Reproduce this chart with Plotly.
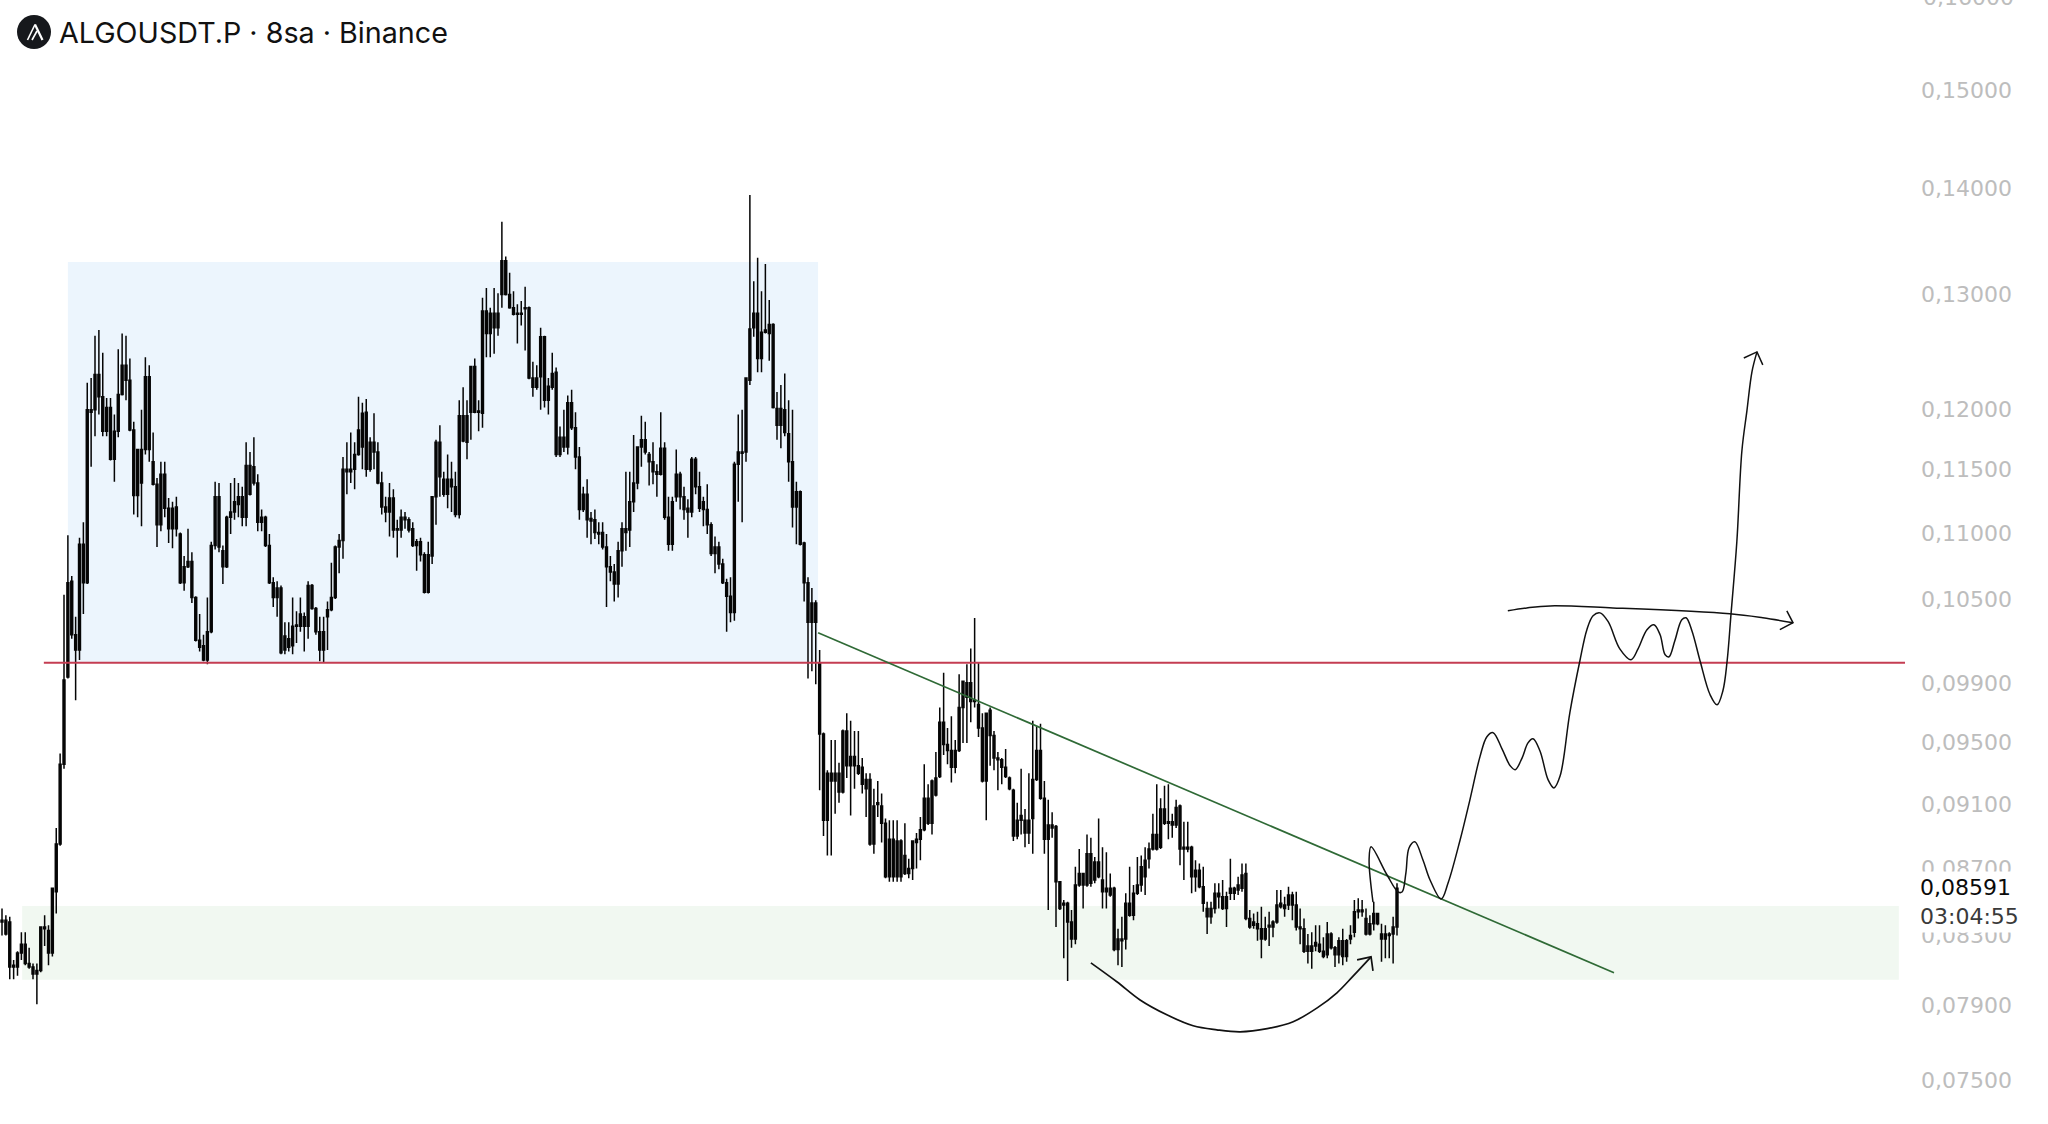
import math
import plotly.graph_objects as go

# Candle values, in units of 0.0001 USDT
highs = [
847,843,842,817,822,833,833,824,815,815,836,843,837,859,896,944,1055,1100,1069,1039,
1098,1110,1224,1228,1265,1270,1250,1211,1211,1197,1253,1267,1265,1245,1191,1168,1201,1246,1239,1182,
1145,1158,1158,1129,1126,1130,1102,1084,1105,1087,1054,1041,1026,1053,1095,1142,1141,1092,1115,1141,
1145,1141,1138,1174,1166,1178,1148,1120,1115,1101,1068,1065,1062,1035,1035,1053,1043,1053,1042,1065,
1063,1046,1039,1039,1050,1079,1092,1101,1162,1174,1182,1174,1212,1207,1210,1178,1198,1174,1150,1130,
1141,1136,1112,1120,1118,1114,1110,1097,1098,1087,1095,1130,1176,1188,1150,1164,1158,1150,1209,1220,
1209,1238,1245,1209,1299,1308,1290,1308,1303,1370,1337,1322,1305,1293,1296,1309,1291,1242,1239,1272,
1265,1228,1250,1237,1187,1201,1213,1218,1199,1170,1138,1144,1118,1120,1110,1110,1101,1084,1078,1095,
1110,1150,1150,1180,1170,1196,1191,1166,1174,1156,1199,1174,1130,1130,1168,1150,1138,1128,1162,1162,
1150,1130,1140,1110,1099,1095,1082,1067,1068,1158,1197,1201,1228,1396,1314,1336,1305,1330,1297,1276,
1216,1222,1232,1209,1201,1142,1135,1095,1068,1060,1051,1015,958,933,953,953,938,960,971,966,
959,959,941,931,931,921,926,918,902,901,901,901,889,899,877,888,893,903,937,924,
927,945,975,999,961,969,953,998,993,1005,1016,1038,1006,971,971,975,959,945,941,947,
929,921,912,934,908,931,966,962,964,926,914,906,898,863,852,851,846,872,883,868,
892,890,878,902,884,881,868,860,835,842,856,872,861,878,879,884,887,905,924,915,
923,924,905,914,911,900,900,885,876,874,872,851,851,862,862,864,857,877,860,866,
874,874,846,844,845,848,842,845,840,858,858,854,860,857,857,847,841,832,833,837,
837,830,839,833,825,830,835,829,837,852,853,852,847,843,851,844,838,837,833,842,
862]
body_tops = [
840,840,839,814,821,826,826,815,813,811,836,836,834,859,886,937,994,1064,1065,1026,
1093,1093,1201,1201,1231,1231,1212,1203,1203,1183,1214,1239,1239,1226,1184,1168,1168,1229,1229,1158,
1140,1148,1148,1121,1121,1122,1101,1076,1080,1080,1053,1022,1018,1028,1092,1130,1130,1088,1114,1118,
1126,1130,1130,1155,1155,1154,1141,1114,1114,1092,1064,1060,1060,1025,1023,1032,1033,1041,1039,1062,
1062,1045,1028,1028,1044,1053,1091,1096,1152,1152,1152,1164,1184,1198,1199,1174,1174,1166,1141,1122,
1129,1129,1105,1114,1114,1112,1105,1095,1095,1085,1085,1130,1174,1174,1144,1144,1144,1138,1196,1196,
1196,1238,1238,1200,1287,1287,1285,1285,1285,1333,1333,1302,1290,1285,1285,1290,1290,1228,1228,1264,
1264,1221,1232,1233,1178,1178,1207,1207,1186,1162,1132,1132,1113,1112,1102,1102,1091,1076,1072,1088,
1105,1105,1126,1141,1170,1176,1176,1164,1158,1150,1169,1169,1114,1126,1148,1148,1130,1121,1160,1160,
1138,1126,1120,1108,1091,1091,1078,1064,1054,1156,1166,1166,1228,1271,1285,1285,1268,1270,1275,1275,
1202,1202,1201,1181,1158,1134,1134,1094,1064,1049,1049,1006,957,931,931,931,931,959,959,942,
942,936,935,927,927,910,912,910,899,889,889,888,888,879,871,888,889,895,915,915,
926,928,965,965,950,946,946,975,993,992,992,980,977,961,971,973,956,941,940,935,
928,920,901,904,901,901,927,946,946,915,898,898,897,863,850,850,839,861,868,868,
880,880,875,875,864,859,859,859,829,829,850,850,856,861,872,876,883,892,892,908,
908,900,900,909,910,884,884,884,870,870,860,847,847,856,856,854,854,859,859,861,
867,868,841,839,838,835,835,837,839,849,850,849,855,855,849,836,835,825,825,827,
826,822,832,832,824,828,828,828,831,845,846,846,841,838,844,844,832,832,832,836,
859]
body_bottoms = [
839,832,813,813,813,821,815,813,809,809,811,835,821,821,857,886,937,996,1026,1015,
1015,1064,1064,1199,1201,1212,1183,1183,1160,1160,1183,1214,1226,1184,1131,1131,1141,1168,1168,1140,
1108,1108,1121,1105,1105,1105,1064,1064,1076,1053,1022,1017,1008,1008,1028,1092,1091,1076,1076,1114,
1118,1124,1114,1114,1132,1141,1110,1110,1092,1064,1053,1053,1013,1015,1017,1018,1032,1032,1032,1032,
1045,1028,1015,1015,1039,1044,1053,1091,1096,1150,1150,1152,1164,1170,1152,1152,1166,1141,1122,1118,
1118,1104,1104,1104,1112,1104,1092,1092,1085,1057,1057,1084,1130,1146,1132,1132,1138,1116,1116,1175,
1174,1199,1199,1199,1198,1267,1267,1272,1272,1302,1302,1290,1284,1284,1284,1289,1228,1220,1220,1229,
1209,1209,1220,1164,1164,1170,1170,1186,1162,1120,1120,1112,1111,1102,1101,1091,1076,1072,1063,1063,
1088,1102,1104,1126,1141,1170,1166,1158,1150,1148,1148,1114,1093,1093,1130,1130,1120,1118,1118,1138,
1121,1120,1108,1086,1086,1078,1064,1054,1042,1042,1156,1165,1166,1226,1272,1245,1245,1268,1267,1203,
1188,1188,1182,1158,1122,1122,1093,1064,1035,1035,1035,957,901,901,926,926,919,919,936,936,
936,931,924,921,886,886,911,899,866,866,866,866,866,868,868,871,887,889,895,899,
899,917,929,950,946,935,935,946,975,982,979,979,961,926,926,956,941,940,935,929,
921,891,891,901,893,893,902,927,915,889,889,896,863,847,849,839,829,829,861,861,
861,862,864,866,857,857,855,823,823,828,829,843,843,856,861,866,877,883,883,884,
899,899,898,898,883,883,883,866,866,860,850,842,842,847,854,847,847,856,856,858,
859,841,836,837,835,829,829,836,836,839,848,847,849,849,836,835,822,822,822,825,
822,819,820,824,820,820,819,819,829,833,845,845,832,832,838,838,829,829,831,832,
836]
lows = [
831,831,806,806,808,817,814,812,806,792,810,825,814,819,844,885,934,995,1023,980,
1008,1041,1063,1154,1179,1197,1179,1179,1159,1142,1178,1213,1209,1183,1116,1114,1107,1164,1158,1139,
1091,1103,1114,1094,1090,1099,1063,1058,1075,1049,1021,1014,1007,1005,1027,1089,1087,1063,1075,1101,
1112,1114,1107,1107,1131,1139,1103,1103,1091,1063,1046,1039,1012,1012,1014,1012,1020,1028,1014,1023,
1044,1026,1007,1006,1015,1043,1052,1071,1082,1132,1141,1136,1163,1152,1146,1150,1152,1140,1116,1110,
1099,1098,1083,1098,1105,1102,1091,1073,1080,1056,1056,1078,1108,1130,1130,1121,1118,1114,1113,1174,
1160,1176,1198,1183,1186,1246,1246,1249,1265,1290,1301,1289,1283,1258,1274,1252,1227,1212,1218,1201,
1203,1197,1218,1162,1162,1166,1164,1184,1152,1112,1118,1098,1093,1097,1093,1089,1046,1065,1050,1053,
1076,1088,1091,1118,1136,1154,1164,1139,1140,1130,1147,1112,1088,1088,1126,1120,1112,1098,1114,1132,
1118,1107,1101,1084,1071,1074,1063,1028,1035,1036,1126,1110,1158,1222,1264,1233,1233,1267,1243,1202,
1176,1169,1179,1142,1106,1093,1092,1050,995,1000,991,920,891,879,879,905,912,918,928,904,
921,930,918,903,885,880,903,887,865,863,863,863,863,867,865,864,871,876,894,898,
892,916,928,943,937,925,931,945,951,951,965,975,955,925,901,936,933,920,924,928,
920,888,889,892,884,886,880,926,914,880,846,890,836,846,818,805,824,826,860,847,
860,860,862,865,847,847,854,822,814,813,823,842,840,855,857,855,871,882,882,883,
898,889,890,896,873,864,881,856,857,859,845,832,838,844,847,846,836,852,852,855,
857,840,835,835,828,818,828,825,830,838,847,842,846,840,834,826,821,815,812,822,
821,818,818,823,813,815,814,816,826,830,841,842,831,831,834,837,816,818,818,815,
831]

# Hand-drawn projection, bar index and price in the same 0.0001 unit
wave_bars = [353.8,352.8,353.3,357.4,360.3,361.3,362.3,363.1,364.6,366.7,368.5,371.4,373.2,376.3,378.8,381.4,383.2,384.8,387.1,389.2,390.5,392.3,393.8,395.1,396.9,399,400.5,402.1,404.6,407.2,409,410.6,412.4,414.5,417.5,420.4,422.2,424.5,426.3,427.9,429.2,430.2,431.7,433.5,434.6,436.1,438.2,440.8,442.6,444.1,445.2,446.2,447.7,449,450.3,451.6,452.9]
wave_prices = [849.5,874.9,883.0,865.9,855.5,855.5,867.1,882.3,886.1,874.9,862.9,851.3,861.0,887.4,912.4,940.4,953.8,956.5,945.7,934.6,932.0,939.8,949.7,952.4,944.3,925.4,920.2,928,969.9,1005.9,1028,1038.1,1040.2,1033.8,1014.3,1006.6,1014.3,1028,1031.6,1024.4,1010.1,1008.7,1020.1,1035.2,1036.6,1027.3,1005.9,982.2,975.3,985,1005.9,1039.5,1093.3,1165.1,1198.3,1231.5,1248.8]
up_head_bars = [449.5,452.9,454.4]
up_head_prices = [1243.5,1248.8,1237.5]
flat_bars = [388.6,393.5,399.5,415.7,445.9,454.4,462.2]
flat_prices = [1041.7,1043.8,1045.3,1043.8,1039.5,1036.6,1033]
flat_head_bars = [460.6,462.2,458.8]
flat_head_prices = [1041.7,1033,1028]
arc_bars = [281,287.7,293.7,300.6,307.4,313.5,319.5,326.5,333.2,339.4,344.5,348.6,353.3]
arc_prices = [814.1,803.4,793.2,785.0,779,776.8,775.7,777.4,781.2,788.8,797.2,806.4,817.5]
arc_head_bars = [349.7,353.3,353.8]
arc_head_prices = [815.8,817.5,809.5]
trend_bars = [210.6,416]
trend_prices = [1025.8,808.5]
level_bars = [10.8,491.1]
level_prices = [1004.5,1004.5]
blue_zone_bars = [17.0,210.6]
blue_zone_prices = [1004.5,1330]
green_zone_bars = [5.2,489.5]
green_zone_prices = [804.5,847.2]

tick_values = [0.15,0.14,0.13,0.12,0.115,0.11,0.105,0.099,0.095,0.091,0.087,0.083,0.079,0.075]
tick_labels = ["0,15000","0,14000","0,13000","0,12000","0,11500","0,11000","0,10500","0,09900","0,09500","0,09100","0,08700","0,08300","0,07900","0,07500"]
top_label = "0,16000"
last_price = "0,08591"
countdown = "03:04:55"
title = "ALGOUSDT.P · 8sa · Binance"

UNIT = 1e-4
CANDLE_UNIT = 0.9985e-4
W, H, PLOT_W = 2048, 1124, 1915
BAR_PX = 3.875
TITLE_FONT = "Inter"
AXIS_FONT = "DejaVu Sans"
AXIS_SIZE = 22

def p(vals, unit=UNIT):
    return [v * unit for v in vals]

bars = list(range(len(highs)))
fig = go.Figure()
fig.add_trace(go.Candlestick(
    x=bars, open=p(body_bottoms, CANDLE_UNIT), close=p(body_tops, CANDLE_UNIT),
    high=p(highs, CANDLE_UNIT), low=p(lows, CANDLE_UNIT),
    increasing=dict(line=dict(color="#050505", width=1.5), fillcolor="#050505"),
    decreasing=dict(line=dict(color="#050505", width=1.5), fillcolor="#050505"),
    whiskerwidth=0, hoverinfo="skip", showlegend=False))

def line(x, y, color, width, shape="linear"):
    fig.add_trace(go.Scatter(x=x, y=p(y), mode="lines", hoverinfo="skip", showlegend=False,
                             line=dict(color=color, width=width, shape=shape, smoothing=1.0)))

line(level_bars, level_prices, "#c43d52", 1.8)
line(trend_bars, trend_prices, "#2f6a36", 1.7)
INK = "#111111"
line(wave_bars, wave_prices, INK, 1.5, "spline")
line(up_head_bars, up_head_prices, INK, 1.5)
line(flat_bars, flat_prices, INK, 1.5, "spline")
line(flat_head_bars, flat_head_prices, INK, 1.5)
line(arc_bars, arc_prices, INK, 1.7, "spline")
line(arc_head_bars, arc_head_prices, INK, 1.7)

def px(x):
    return x / PLOT_W

def py(y):
    return 1 - y / H

shapes = [
    dict(type="rect", layer="below", xref="x", yref="y", line_width=0, fillcolor="#ecf5fd",
         x0=blue_zone_bars[0], x1=blue_zone_bars[1], y0=blue_zone_prices[0]*UNIT, y1=blue_zone_prices[1]*UNIT),
    dict(type="rect", layer="below", xref="x", yref="y", line_width=0, fillcolor="#f1f8f1",
         x0=green_zone_bars[0], x1=green_zone_bars[1], y0=green_zone_prices[0]*UNIT, y1=green_zone_prices[1]*UNIT),
    dict(type="circle", xref="paper", yref="paper", line_width=0, fillcolor="#16181c",
         x0=px(17), x1=px(51), y0=py(49), y1=py(15)),
    dict(type="line", xref="paper", yref="paper", line=dict(color="white", width=1.6),
         x0=px(27.5), y0=py(40), x1=px(35), y1=py(24.5)),
    dict(type="line", xref="paper", yref="paper", line=dict(color="white", width=2.2),
         x0=px(35), y0=py(24.5), x1=px(42.5), y1=py(40)),
    dict(type="line", xref="paper", yref="paper", line=dict(color="white", width=1.6),
         x0=px(32), y0=py(40), x1=px(37), y1=py(31)),
]

annotations = [
    dict(text=title, xref="paper", yref="paper", x=px(57), y=py(32), xanchor="left", yanchor="middle",
         showarrow=False, font=dict(family=TITLE_FONT, size=28.7, color="#111111")),
    dict(text=top_label, xref="paper", yref="paper", x=px(1921), y=py(-3), xanchor="left", yanchor="middle",
         showarrow=False, font=dict(family=AXIS_FONT, size=AXIS_SIZE, color="#bdbdbd")),
    dict(text=f"<span style='color:#0a0a0a'>{last_price}</span><br><span style='color:#3a3a3a'>{countdown}</span>",
         xref="paper", yref="paper", x=px(1918), y=py(902), xanchor="left", yanchor="middle",
         width=128, height=58, align="left", bgcolor="white", showarrow=False,
         font=dict(family=AXIS_FONT, size=AXIS_SIZE)),
]

fig.update_layout(
    width=W, height=H, autosize=False, margin=dict(l=0, r=W - PLOT_W, t=0, b=0, pad=0),
    paper_bgcolor="white", plot_bgcolor="white", shapes=shapes, annotations=annotations,
    xaxis=dict(visible=False, rangeslider=dict(visible=False), range=[-2 / BAR_PX, (PLOT_W - 2) / BAR_PX]),
    yaxis=dict(type="log", side="right", range=[math.log10(0.07272), math.log10(0.15978)],
               tickmode="array", tickvals=tick_values, ticktext=tick_labels, ticks="",
               showgrid=False, zeroline=False, showline=False,
               ticklabelstandoff=5,
               tickfont=dict(family=AXIS_FONT, size=AXIS_SIZE, color="#bdbdbd")),
)

fig.write_html("out.html", config=dict(displayModeBar=False),
               post_script="document.body.style.margin='0';document.body.style.overflow='hidden';")
